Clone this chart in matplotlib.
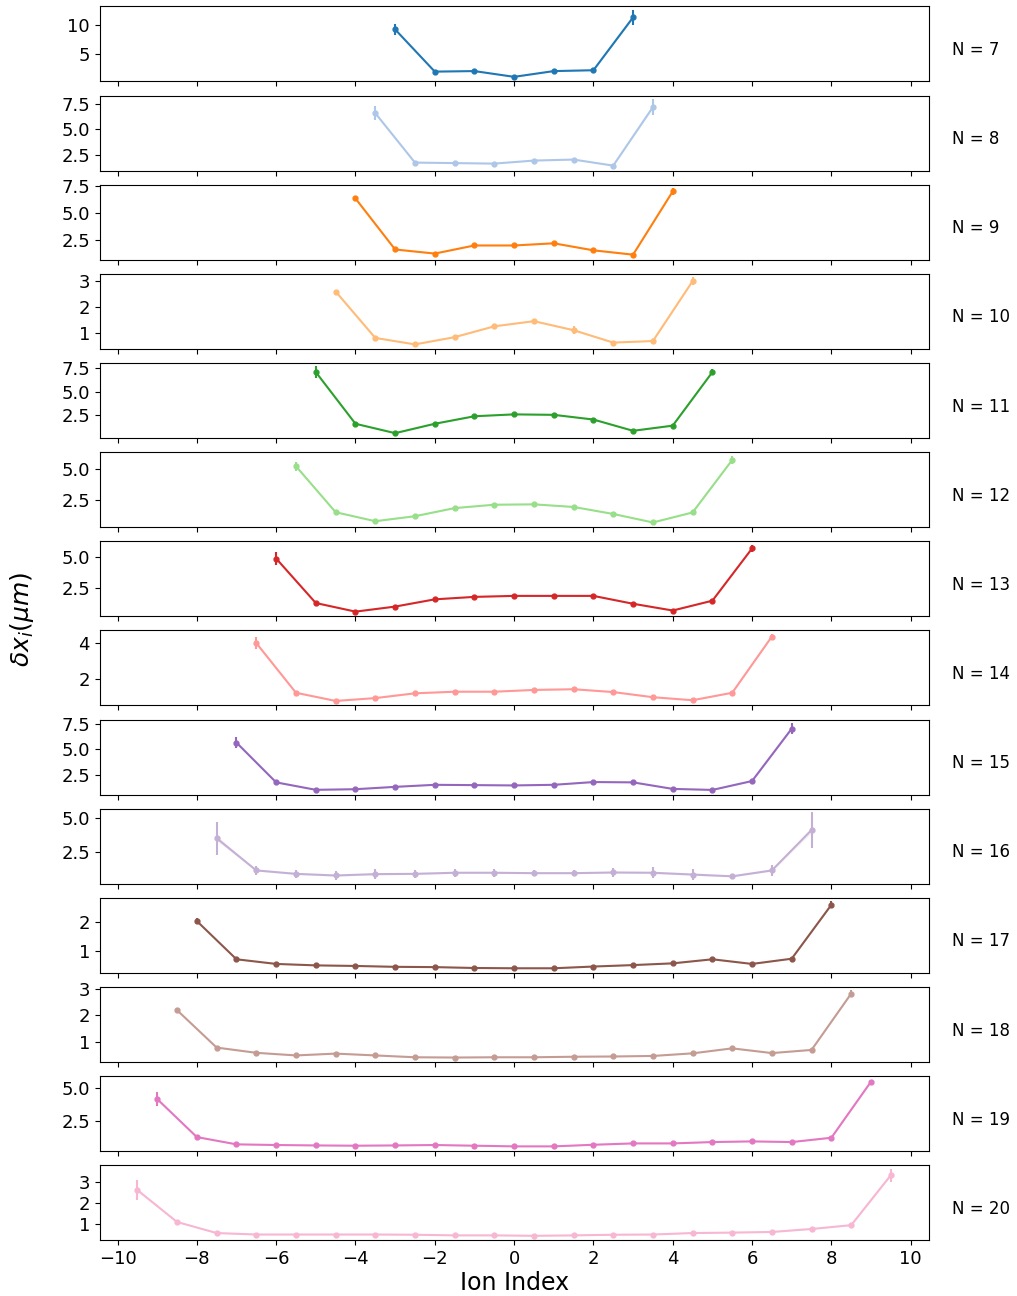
import matplotlib
matplotlib.use("Agg")
import matplotlib.pyplot as plt
import numpy as np

n_ions = [7, 8, 9, 10, 11, 12, 13, 14, 15, 16, 17, 18, 19, 20]

dx_7 = [9.3, 1.96, 2.05, 1.05, 2.05, 2.2, 11.4]
err_7 = [0.9, 0.25, 0.25, 0.2, 0.25, 0.3, 1.3]
dx_8 = [6.6, 1.7, 1.65, 1.6, 1.9, 2.0, 1.4, 7.2]
err_8 = [0.7, 0.15, 0.15, 0.15, 0.15, 0.15, 0.15, 0.8]
dx_9 = [6.35, 1.63, 1.25, 2.0, 2.0, 2.2, 1.55, 1.15, 7.0]
err_9 = [0.25, 0.15, 0.15, 0.15, 0.15, 0.15, 0.15, 0.15, 0.3]
dx_10 = [2.6, 0.8, 0.55, 0.83, 1.25, 1.45, 1.1, 0.62, 0.68, 3.0]
err_10 = [0.06, 0.05, 0.04, 0.05, 0.06, 0.07, 0.15, 0.05, 0.06, 0.15]
dx_11 = [7.1, 1.6, 0.6, 1.6, 2.4, 2.6, 2.55, 2.05, 0.85, 1.4, 7.1]
err_11 = [0.6, 0.15, 0.15, 0.15, 0.15, 0.15, 0.15, 0.15, 0.15, 0.15, 0.3]
dx_12 = [5.2, 1.52, 0.8, 1.2, 1.85, 2.12, 2.15, 1.94, 1.38, 0.7, 1.5, 5.7]
err_12 = [0.35, 0.12, 0.1, 0.1, 0.12, 0.12, 0.12, 0.12, 0.12, 0.1, 0.12, 0.35]
dx_13 = [4.9, 1.28, 0.58, 0.99, 1.58, 1.78, 1.86, 1.86, 1.86, 1.22, 0.67, 1.47, 5.72]
err_13 = [0.55, 0.1, 0.1, 0.1, 0.1, 0.1, 0.1, 0.1, 0.1, 0.1, 0.1, 0.1, 0.3]
dx_14 = [4.0, 1.2, 0.74, 0.9, 1.17, 1.26, 1.26, 1.36, 1.4, 1.24, 0.95, 0.78, 1.2, 4.37]
err_14 = [0.35, 0.07, 0.06, 0.06, 0.07, 0.07, 0.07, 0.07, 0.08, 0.07, 0.06, 0.06, 0.07, 0.15]
dx_15 = [5.63, 1.74, 1.01, 1.07, 1.3, 1.5, 1.47, 1.44, 1.5, 1.77, 1.74, 1.1, 1.0, 1.87, 7.0]
err_15 = [0.55, 0.2, 0.12, 0.12, 0.12, 0.12, 0.12, 0.12, 0.12, 0.15, 0.15, 0.12, 0.12, 0.2, 0.55]
dx_16 = [3.5, 1.15, 0.9, 0.78, 0.88, 0.9, 0.98, 0.98, 0.95, 0.95, 1.0, 0.98, 0.85, 0.72, 1.15, 4.1]
err_16 = [1.2, 0.3, 0.3, 0.35, 0.35, 0.3, 0.3, 0.3, 0.2, 0.2, 0.3, 0.4, 0.4, 0.2, 0.4, 1.3]
dx_17 = [2.05, 0.73, 0.57, 0.52, 0.5, 0.47, 0.46, 0.43, 0.42, 0.42, 0.48, 0.53, 0.59, 0.73, 0.57, 0.75, 2.61]
err_17 = [0.1, 0.04, 0.04, 0.04, 0.04, 0.04, 0.04, 0.04, 0.04, 0.04, 0.04, 0.04, 0.04, 0.05, 0.04, 0.05, 0.12]
dx_18 = [2.2, 0.77, 0.57, 0.47, 0.54, 0.47, 0.4, 0.39, 0.4, 0.4, 0.42, 0.43, 0.45, 0.55, 0.74, 0.56, 0.68, 2.83]
err_18 = [0.1, 0.04, 0.04, 0.04, 0.04, 0.04, 0.04, 0.04, 0.04, 0.04, 0.04, 0.04, 0.04, 0.04, 0.05, 0.04, 0.05, 0.12]
dx_19 = [4.16, 1.34, 0.8, 0.75, 0.72, 0.7, 0.72, 0.75, 0.7, 0.65, 0.65, 0.77, 0.87, 0.87, 0.97, 1.02, 0.97, 1.29, 5.45]
err_19 = [0.5, 0.12, 0.1, 0.1, 0.1, 0.1, 0.1, 0.1, 0.1, 0.1, 0.1, 0.1, 0.1, 0.1, 0.1, 0.1, 0.1, 0.12, 0.15]
dx_20 = [2.6, 1.1, 0.58, 0.51, 0.51, 0.51, 0.51, 0.5, 0.47, 0.47, 0.45, 0.47, 0.5, 0.51, 0.58, 0.6, 0.63, 0.77, 0.95, 3.3]
err_20 = [0.45, 0.08, 0.05, 0.05, 0.05, 0.05, 0.05, 0.05, 0.05, 0.05, 0.05, 0.05, 0.05, 0.05, 0.05, 0.05, 0.05, 0.06, 0.07, 0.3]

values = [dx_7, dx_8, dx_9, dx_10, dx_11, dx_12, dx_13, dx_14, dx_15, dx_16, dx_17, dx_18, dx_19, dx_20]
errors = [err_7, err_8, err_9, err_10, err_11, err_12, err_13, err_14, err_15, err_16, err_17, err_18, err_19, err_20]

colors = plt.get_cmap("tab20").colors

fig, axes = plt.subplots(len(n_ions), 1, sharex=True, figsize=(10.17, 12.96), dpi=100)
fig.subplots_adjust(left=0.098, right=0.913, top=0.995, bottom=0.043, hspace=0.19)

for i, (n, y, e) in enumerate(zip(n_ions, values, errors)):
    ax = axes[i]
    x = np.arange(n) - (n - 1) / 2
    y = np.array(y)
    e = np.array(e)
    c = colors[i]
    ax.fill_between(x, y - e * 0.15, y + e * 0.15, color=c, alpha=0.2, lw=0)
    ax.errorbar(x, y, yerr=e, color=c, marker="o", markersize=3.5, lw=1.5, elinewidth=1.5)
    ax.tick_params(labelsize=13)
    ax.text(1.028, 0.42, f"N = {n}", transform=ax.transAxes, fontsize=12, va="center", ha="left")

axes[-1].set_xlabel("Ion Index", fontsize=17)
axes[-1].xaxis.labelpad = 2
axes[-1].set_xticks([-10, -8, -6, -4, -2, 0, 2, 4, 6, 8, 10])
fig.text(0.022, 0.522, r"$\delta x_i(\mu m)$", rotation=90, fontsize=18, va="center", ha="center")

fig.savefig("out.png", dpi=100)
